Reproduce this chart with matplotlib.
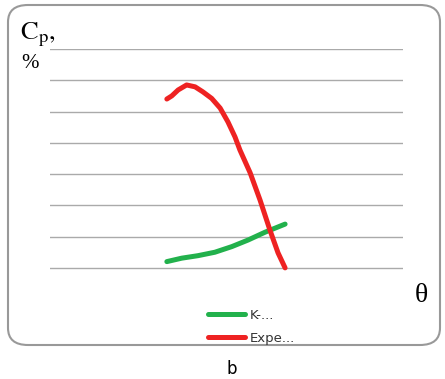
import matplotlib
matplotlib.use("Agg")
from matplotlib import pyplot as plt
from matplotlib.patches import FancyBboxPatch

# data (x in arbitrary theta units, y in grid steps)
red_x = [3.31, 3.45, 3.63, 3.87, 4.11, 4.33, 4.58, 4.82, 5.04, 5.24,
         5.38, 5.67, 5.95, 6.23, 6.46, 6.66]
red_y = [5.40, 5.50, 5.69, 5.85, 5.79, 5.63, 5.42, 5.11, 4.67, 4.19,
         3.77, 3.04, 2.17, 1.21, 0.48, 0.00]
green_x = [3.31, 3.73, 4.19, 4.67, 5.15, 5.61, 6.09, 6.66]
green_y = [0.20, 0.31, 0.39, 0.50, 0.68, 0.89, 1.14, 1.40]
labels = ["K-...", "Expe..."]

W, H = 445, 379
fig = plt.figure(figsize=(W / 100, H / 100), dpi=100)
plt.rcParams["mathtext.fontset"] = "stix"

# rounded frame around the plot
box = FancyBboxPatch((8 / W, 1 - 345 / H), 432 / W, 340 / H,
                     boxstyle="round,pad=0,rounding_size=0.045",
                     transform=fig.transFigure, fill=False,
                     edgecolor="#999999", linewidth=1.5)
fig.patches.append(box)

ax = fig.add_axes([50 / W, 1 - 271 / H, 353 / W, 222 / H])
ax.set_xlim(0, 10)
ax.set_ylim(-0.1, 7)
ax.set_yticks(range(8))
ax.set_xticks([])
ax.tick_params(length=0, labelleft=False)
ax.grid(axis="y", color="#aaaaaa", linewidth=1)
for s in ax.spines.values():
    s.set_visible(False)
ax.patch.set_alpha(0)

l1, = ax.plot(green_x, green_y, color="#22b14c", lw=3.6,
              solid_capstyle="round", solid_joinstyle="round", clip_on=False)
l2, = ax.plot(red_x, red_y, color="#ee2222", lw=3.6,
              solid_capstyle="round", solid_joinstyle="round", clip_on=False)

fig.legend([l1, l2], labels, loc="center left",
           bbox_to_anchor=(196 / W, 1 - 327 / H), frameon=False,
           handlelength=2.8, handletextpad=0.35, labelspacing=0.75,
           prop={"size": 9.5}, labelcolor="#333333")

fig.text(20 / W, 1 - 35 / H, r"$\mathrm{C_p},$", fontsize=19, va="center", ha="left")
fig.text(21 / W, 1 - 63 / H, "%", fontsize=15, va="center", ha="left",
         family="Liberation Serif")
fig.text(421 / W, 1 - 296 / H, "θ", fontsize=20, va="center", ha="center",
         family="Liberation Serif")
fig.text(232 / W, 1 - 369 / H, "b", fontsize=12, va="center", ha="center")

fig.savefig("out.png", dpi=100)
